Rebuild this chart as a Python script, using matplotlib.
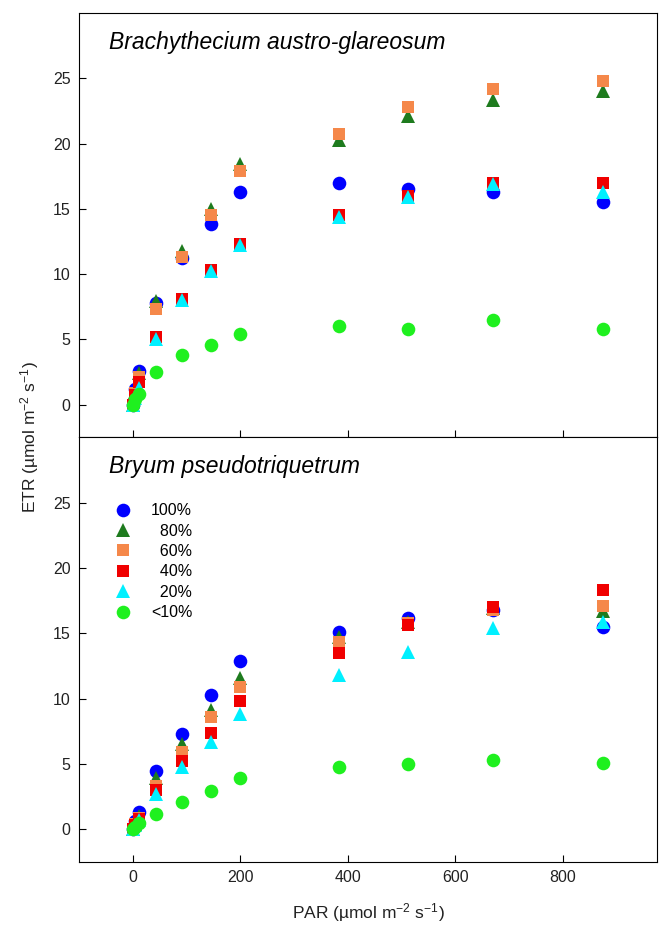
import matplotlib
matplotlib.use('Agg')
import matplotlib.pyplot as plt

plt.rcParams['font.family'] = ['Liberation Sans', 'DejaVu Sans']
plt.rcParams['mathtext.fontset'] = 'custom'
plt.rcParams['mathtext.rm'] = 'Liberation Sans'
plt.rcParams['mathtext.default'] = 'regular'

# PAR levels
par = [0, 5, 11, 44, 91, 145, 200, 384, 512, 670, 875]

# Brachythecium austro-glareosum
b_100 = [0.0, 1.2, 2.6, 7.8, 11.2, 13.8, 16.3, 17.0, 16.5, 16.3, 15.5]
b_80 = [0.0, 1.0, 2.4, 7.9, 11.8, 15.0, 18.4, 20.3, 22.1, 23.3, 24.0]
b_60 = [0.0, 0.9, 2.1, 7.3, 11.3, 14.5, 17.9, 20.7, 22.8, 24.2, 24.8]
b_40 = [0.0, 0.7, 1.7, 5.2, 8.1, 10.3, 12.3, 14.5, 16.0, 17.0, 17.0]
b_20 = [0.0, 0.5, 1.3, 5.0, 8.0, 10.2, 12.2, 14.4, 15.9, 16.9, 16.3]
b_10 = [0.0, 0.4, 0.8, 2.5, 3.8, 4.6, 5.4, 6.0, 5.8, 6.5, 5.8]

# Bryum pseudotriquetrum
p_100 = [0.0, 0.6, 1.3, 4.5, 7.3, 10.3, 12.9, 15.1, 16.2, 16.8, 15.5]
p_80 = [0.0, 0.4, 1.0, 3.9, 6.5, 9.1, 11.6, 14.7, 15.9, 16.9, 16.7]
p_60 = [0.0, 0.4, 0.9, 3.3, 5.9, 8.6, 10.9, 14.3, 15.8, 16.8, 17.1]
p_40 = [0.0, 0.3, 0.8, 3.0, 5.2, 7.4, 9.8, 13.5, 15.6, 17.0, 18.3]
p_20 = [0.0, 0.3, 0.7, 2.7, 4.8, 6.7, 8.8, 11.8, 13.6, 15.4, 15.9]
p_10 = [0.0, 0.2, 0.5, 1.2, 2.1, 2.9, 3.9, 4.8, 5.0, 5.3, 5.1]

labels = ['100%', '\u200780%', '\u200760%', '\u200740%', '\u200720%', '<10%']
markers = ['o', '^', 's', 's', '^', 'o']
sizes = [9.8, 9.8, 8.7, 8.7, 9.8, 9.8]
colors = ['#0000FF', '#1E7B1E', '#F5884A', '#F00000', '#00F0FF', '#1FF01F']

fig = plt.figure(figsize=(6.59, 9.26), dpi=100)
ax1 = fig.add_axes([0.1199, 0.5278, 0.8771, 0.4582])
ax2 = fig.add_axes([0.1199, 0.0691, 0.8771, 0.4587])

panels = [(ax1, 'Brachythecium austro-glareosum', [b_100, b_80, b_60, b_40, b_20, b_10]),
          (ax2, 'Bryum pseudotriquetrum', [p_100, p_80, p_60, p_40, p_20, p_10])]

for ax, title, series in panels:
    for ys, mk, ms, c, lab in zip(series, markers, sizes, colors, labels):
        ax.plot(par, ys, linestyle='none', marker=mk, ms=ms, color=c,
                markeredgewidth=0, label=lab)
    ax.set_xlim(-100, 975)
    ax.set_ylim(-2.5, 30)
    ax.set_xticks([0, 200, 400, 600, 800])
    ax.set_yticks([0, 5, 10, 15, 20, 25])
    ax.tick_params(direction='in', length=5, width=0.8, labelsize=11.5, pad=6,
                   labelcolor='#222222')
    ax.text(0.052, 0.93, title, transform=ax.transAxes, fontsize=16.5,
            style='italic', va='center', ha='left')
    for sp in ax.spines.values():
        sp.set_linewidth(0.8)

ax1.tick_params(labelbottom=False)

ax2.legend(loc='upper left', bbox_to_anchor=(0.062, 0.845), frameon=False,
           borderpad=0, borderaxespad=0, handlelength=1.0, handletextpad=1.27,
           labelspacing=0.34, numpoints=1, fontsize=11.5)

fig.text(0.5584, 0.015, 'PAR (µmol m$^{-2}$ s$^{-1}$)', ha='center', va='center',
         fontsize=12.5, color='#222222')
fig.text(0.045, 0.528, 'ETR (µmol m$^{-2}$ s$^{-1}$)', ha='center', va='center',
         rotation=90, fontsize=12.5, color='#222222')

fig.savefig('out.png', dpi=100)
